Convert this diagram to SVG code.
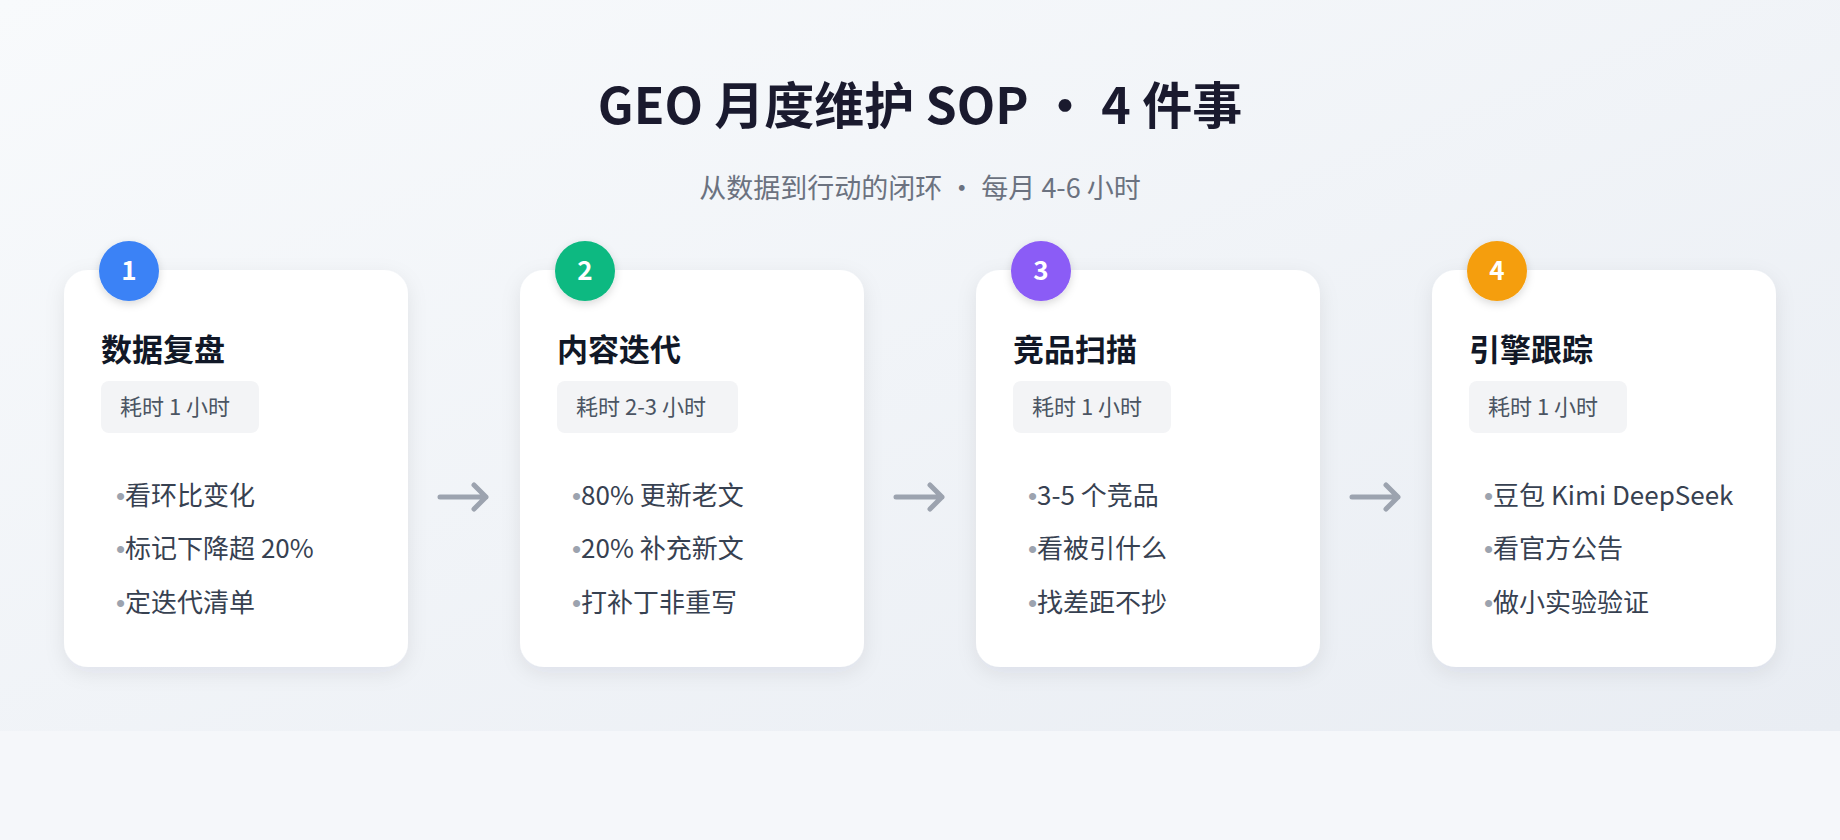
<svg xmlns="http://www.w3.org/2000/svg" width="1840" height="840" viewBox="0 0 1840 840">
<defs>
<linearGradient id="bg" x1="0" y1="0" x2="1" y2="1"><stop offset="0" stop-color="#f8fafc"/><stop offset="1" stop-color="#e9edf3"/></linearGradient>
<filter id="sh" x="-20%" y="-20%" width="140%" height="140%"><feDropShadow dx="0" dy="6" stdDeviation="10" flood-color="#1e293b" flood-opacity="0.08"/></filter>
<filter id="bsh" x="-50%" y="-50%" width="200%" height="200%"><feDropShadow dx="0" dy="3" stdDeviation="4" flood-color="#000" flood-opacity="0.15"/></filter>
</defs>
<style>
text{font-family:"Noto Sans CJK SC","Noto Sans",sans-serif}
.card{fill:#fff;filter:url(#sh)}
.h{font-size:31px;font-weight:700;fill:#111827}
.pill{fill:#f3f4f6}
.pt{font-size:22px;fill:#4b5563}
.b{font-size:26px;fill:#374151}
.dot{fill:#9ca3af;font-family:"Liberation Sans",sans-serif}
.num{font-size:26px;font-weight:700;fill:#fff;text-anchor:middle}
.arr{stroke:#9ca3af;stroke-width:5;fill:none;stroke-linecap:round;stroke-linejoin:round}
</style>
<rect width="1840" height="840" fill="#f5f7fa"/>
<rect width="1840" height="731" fill="url(#bg)"/>
<text x="920" y="124" text-anchor="middle" font-size="50" font-weight="700" fill="#1a1a2e">GEO 月度维护 SOP ・ 4 件事</text>
<text x="920" y="198" text-anchor="middle" font-size="27" fill="#6b7280">从数据到行动的闭环 ・ 每月 4-6 小时</text>
<g id="node1">
<rect class="card" x="64" y="270" width="344" height="397" rx="24"/>
<circle cx="129" cy="271" r="30" fill="#3b82f6" filter="url(#bsh)"/><text class="num" x="129" y="280">1</text>
<text class="h" x="101" y="361">数据复盘</text>
<rect class="pill" x="101" y="381" width="158" height="52" rx="8"/><text class="pt" x="120" y="415">耗时 1 小时</text>
<text class="b" x="116" y="505"><tspan class="dot">•</tspan>看环比变化</text>
<text class="b" x="116" y="558"><tspan class="dot">•</tspan>标记下降超 20%</text>
<text class="b" x="116" y="612"><tspan class="dot">•</tspan>定迭代清单</text>
</g>
<g id="node2">
<rect class="card" x="520" y="270" width="344" height="397" rx="24"/>
<circle cx="585" cy="271" r="30" fill="#10b981" filter="url(#bsh)"/><text class="num" x="585" y="280">2</text>
<text class="h" x="557" y="361">内容迭代</text>
<rect class="pill" x="557" y="381" width="181" height="52" rx="8"/><text class="pt" x="576" y="415">耗时 2-3 小时</text>
<text class="b" x="572" y="505"><tspan class="dot">•</tspan>80% 更新老文</text>
<text class="b" x="572" y="558"><tspan class="dot">•</tspan>20% 补充新文</text>
<text class="b" x="572" y="612"><tspan class="dot">•</tspan>打补丁非重写</text>
</g>
<g id="node3">
<rect class="card" x="976" y="270" width="344" height="397" rx="24"/>
<circle cx="1041" cy="271" r="30" fill="#8b5cf6" filter="url(#bsh)"/><text class="num" x="1041" y="280">3</text>
<text class="h" x="1013" y="361">竞品扫描</text>
<rect class="pill" x="1013" y="381" width="158" height="52" rx="8"/><text class="pt" x="1032" y="415">耗时 1 小时</text>
<text class="b" x="1028" y="505"><tspan class="dot">•</tspan>3-5 个竞品</text>
<text class="b" x="1028" y="558"><tspan class="dot">•</tspan>看被引什么</text>
<text class="b" x="1028" y="612"><tspan class="dot">•</tspan>找差距不抄</text>
</g>
<g id="node4">
<rect class="card" x="1432" y="270" width="344" height="397" rx="24"/>
<circle cx="1497" cy="271" r="30" fill="#f59e0b" filter="url(#bsh)"/><text class="num" x="1497" y="280">4</text>
<text class="h" x="1469" y="361">引擎跟踪</text>
<rect class="pill" x="1469" y="381" width="158" height="52" rx="8"/><text class="pt" x="1488" y="415">耗时 1 小时</text>
<text class="b" x="1484" y="505"><tspan class="dot">•</tspan>豆包 Kimi DeepSeek</text>
<text class="b" x="1484" y="558"><tspan class="dot">•</tspan>看官方公告</text>
<text class="b" x="1484" y="612"><tspan class="dot">•</tspan>做小实验验证</text>
</g>
<g id="connectors">
<path class="arr" d="M440 497H486M474 485L486 497L474 509"/>
<path class="arr" d="M896 497H942M930 485L942 497L930 509"/>
<path class="arr" d="M1352 497H1398M1386 485L1398 497L1386 509"/>
</g>
</svg>
